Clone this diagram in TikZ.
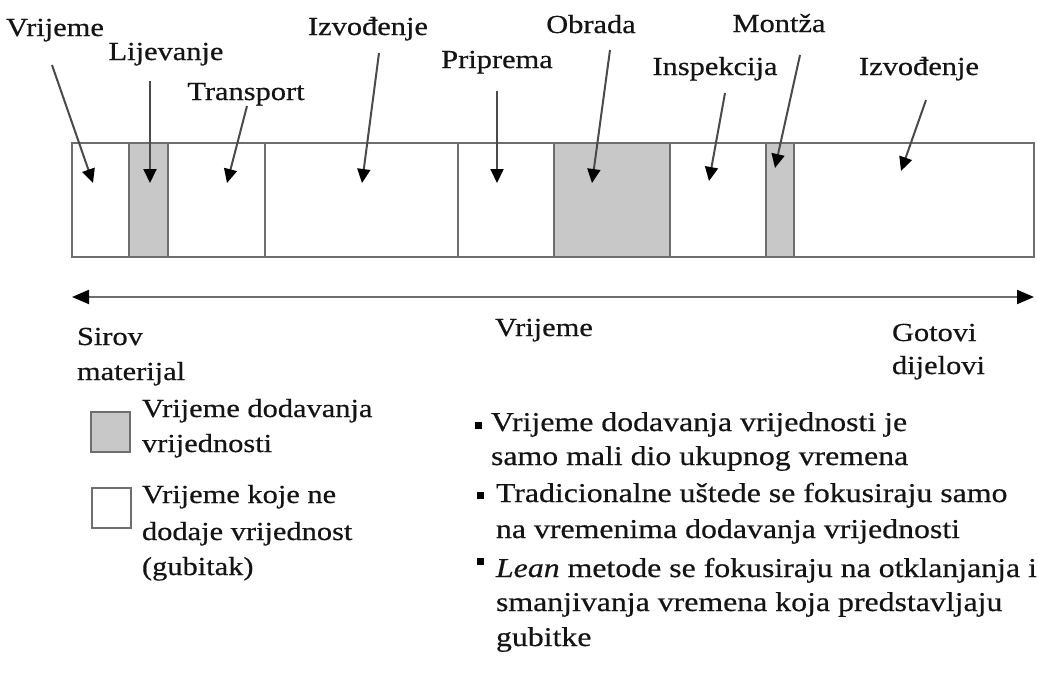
\documentclass[tikz,border=0pt]{standalone}
\usepackage{fontspec}
\setmainfont{Liberation Serif}[FakeStretch=1.17, FakeBold=0.5]
\usetikzlibrary{arrows.meta}
\definecolor{segfill}{HTML}{C8C8C8}
\definecolor{segline}{HTML}{6E6E6E}
\definecolor{arrline}{HTML}{4A4A4A}
\definecolor{txtcol}{HTML}{141414}
\begin{document}
\begin{tikzpicture}[x=1pt,y=-1pt,
  every node/.style={font=\fontsize{26}{34}\selectfont, text=txtcol, inner sep=0pt, outer sep=0pt},
  lbl/.style={anchor=base},
  txt/.style={anchor=base west},
  btxt/.style={anchor=base west, font=\fontsize{27.2}{34}\selectfont},
  seg/.style={draw=segline, line width=2pt, minimum height=114pt, fill=white},
  vseg/.style={seg, fill=segfill},
  ptr/.style={draw=arrline, line width=2pt, -{Triangle[length=14pt,width=13pt,black]}},
  axisline/.style={draw=segline, line width=2pt, {Triangle[length=17pt,width=14pt,black]}-{Triangle[length=17pt,width=14pt,black]}},
  bullet/.style={fill=black, minimum size=7pt},
  legbox/.style={draw=segline, line width=2pt, minimum width=39pt, minimum height=40pt}
]
\useasboundingbox (0,0) rectangle (1038,672);
\fill[white] (0,0) rectangle (1038,672);

% time bar segments
\node[seg,  minimum width=57pt]  (s1) at (100.5,200) {};
\node[seg,  minimum width=97pt]  (s3) at (216.5,200) {};
\node[seg,  minimum width=193pt] (s4) at (361.5,200) {};
\node[seg,  minimum width=96pt]  (s5) at (506,200) {};
\node[seg,  minimum width=96pt]  (s7) at (718,200) {};
\node[seg,  minimum width=240pt] (s9) at (914,200) {};
\node[vseg, minimum width=39pt]  (s2) at (148.5,200) {};
\node[vseg, minimum width=116pt] (s6) at (612,200) {};
\node[vseg, minimum width=28pt]  (s8) at (780,200) {};

% labels above the bar
\node[lbl] (tVrijeme)    at (55,36)  {Vrijeme};
\node[lbl] (tLijevanje)  at (166,60) {Lijevanje};
\node[lbl] (tTransport)  at (246,100) {Transport};
\node[lbl] (tIzvodjenje) at (368,35) {Izvođenje};
\node[lbl] (tPriprema)   at (497,68) {Priprema};
\node[lbl] (tObrada)     at (591,33) {Obrada};
\node[lbl] (tMontza)     at (779,32) {Montža};
\node[lbl] (tInspekcija) at (715,75) {Inspekcija};
\node[lbl] (tIzvodjenjeB) at (919,75) {Izvođenje};

% pointer start / end points
\coordinate (p1a) at (52,65);   \coordinate (p1b) at (93,183);
\coordinate (p2a) at (150,81);  \coordinate (p2b) at (150,183);
\coordinate (p3a) at (247,106); \coordinate (p3b) at (227,183);
\coordinate (p4a) at (379,53);  \coordinate (p4b) at (362,183);
\coordinate (p5a) at (497,91);  \coordinate (p5b) at (497,183);
\coordinate (p6a) at (610,50);  \coordinate (p6b) at (592,183);
\coordinate (p7a) at (725,93);  \coordinate (p7b) at (709,181);
\coordinate (p8a) at (800,55);  \coordinate (p8b) at (775,168);
\coordinate (p9a) at (926,100); \coordinate (p9b) at (901,171);
\foreach \i in {1,...,9}{\draw[ptr] (p\i a) -- (p\i b);}

% time axis
\coordinate (axL) at (72,297);
\coordinate (axR) at (1034,297);
\draw[axisline] (axL) -- (axR);

\node[txt] (sirovA) at (77,345) {Sirov};
\node[txt] (sirovB) at (77,380) {materijal};
\node[txt] (axisT)  at (495,336) {Vrijeme};
\node[txt] (gotA)   at (892,341) {Gotovi};
\node[txt] (gotB)   at (892,374) {dijelovi};

% legend
\node[legbox, fill=segfill] (legG) at (110.5,432) {};
\node[legbox, fill=white]   (legW) at (111,508) {};
\node[txt] (lgA) at (142,417) {Vrijeme dodavanja};
\node[txt] (lgB) at (142,452) {vrijednosti};
\node[txt] (lwA) at (142,503) {Vrijeme koje ne};
\node[txt] (lwB) at (142,540) {dodaje vrijednost};
\node[txt] (lwC) at (142,575) {(gubitak)};

% bullet points
\node[bullet] (b1) at (478,425) {};
\node[btxt] (b1a) at (491,431) {Vrijeme dodavanja vrijednosti je};
\node[btxt] (b1b) at (491,465) {samo mali dio ukupnog vremena};
\node[bullet] (b2) at (480,495) {};
\node[btxt] (b2a) at (496,502) {Tradicionalne uštede se fokusiraju samo};
\node[btxt] (b2b) at (496,538) {na vremenima dodavanja vrijednosti};
\node[bullet] (b3) at (480,561) {};
\node[btxt] (b3a) at (496,577) {\textit{Lean} metode se fokusiraju na otklanjanja i};
\node[btxt] (b3b) at (496,611) {smanjivanja vremena koja predstavljaju};
\node[btxt] (b3c) at (496,646) {gubitke};
\end{tikzpicture}
\end{document}
